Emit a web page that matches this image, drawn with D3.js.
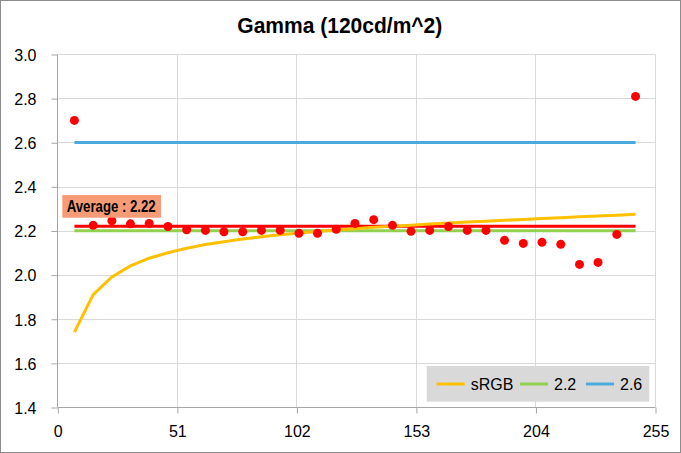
<!DOCTYPE html>
<html><head><meta charset="utf-8">
<script src="https://cdn.jsdelivr.net/npm/d3@7"></script>
<style>
body{margin:0;background:#fff;}
svg{display:block;font-family:"Liberation Sans",Arial,sans-serif;}
</style></head><body>
<svg id="c" width="681" height="453"></svg>
<script>
const title = "Gamma (120cd/m^2)";
const levels = [7.3,15.3,23.3,31.2,39.2,47.2,55.2,63.2,71.1,79.1,87.1,95.1,103.1,111.0,119.0,127.0,135.0,143.0,150.9,158.9,166.9,174.9,182.9,190.8,198.8,206.8,214.8,222.8,230.7,238.7,246.7];
const measured = [2.70,2.224,2.245,2.231,2.233,2.219,2.204,2.201,2.195,2.195,2.201,2.201,2.188,2.188,2.206,2.233,2.250,2.224,2.197,2.201,2.219,2.201,2.201,2.156,2.142,2.147,2.138,2.047,2.056,2.183,2.809];
const srgb = [1.74,1.91,1.99,2.04,2.075,2.10,2.12,2.137,2.15,2.162,2.172,2.181,2.189,2.196,2.203,2.209,2.215,2.22,2.225,2.23,2.235,2.239,2.243,2.247,2.251,2.255,2.259,2.263,2.266,2.27,2.274];
const g22 = 2.2, g26 = 2.6;
const average = 2.22;
const avgLabel = "Average : 2.22";
const xTicks = [0,51,102,153,204,255];
const yTicks = [1.4,1.6,1.8,2.0,2.2,2.4,2.6,2.8,3.0];
const legendItems = [{name:"sRGB",color:"#ffc000"},{name:"2.2",color:"#92d050"},{name:"2.6",color:"#4aaade"}];

const svg = d3.select("#c");
svg.append("rect").attr("x",0.5).attr("y",0.5).attr("width",680).attr("height",452)
  .attr("fill","#fff").attr("stroke","#8c8c8c");

const x = d3.scaleLinear().domain([0,255]).range([57.3,655]);
const y = d3.scaleLinear().domain([1.4,3.0]).range([407,54.3]);

svg.append("text").attr("x",237.3).attr("y",33.3)
  .attr("textLength",205).attr("lengthAdjust","spacingAndGlyphs")
  .attr("font-size",22).attr("font-weight","bold").attr("fill","#000").text(title);

// gridlines
const grid = svg.append("g").attr("stroke","#d9d9d9").attr("stroke-width",1);
yTicks.slice(1).forEach(t=>grid.append("line").attr("x1",x(0)).attr("x2",x(255)).attr("y1",Math.round(y(t))+0.5).attr("y2",Math.round(y(t))+0.5));
xTicks.slice(1).forEach(t=>grid.append("line").attr("y1",y(3.0)).attr("y2",y(1.4)).attr("x1",Math.round(x(t))+0.5).attr("x2",Math.round(x(t))+0.5));

// axes
const ax = svg.append("g").attr("transform",`translate(${Math.round(x(0))+0.5},0)`)
  .call(d3.axisLeft(y.copy().range([407.5,54.5])).tickValues(yTicks).tickFormat(d3.format(".1f")).tickSize(6).tickPadding(15));
const bx = svg.append("g").attr("transform",`translate(0,${407.5})`)
  .call(d3.axisBottom(x.copy().range([57.8,655.5])).tickValues(xTicks).tickSize(6).tickPadding(12.6));
[ax,bx].forEach(a=>{
  a.selectAll("path,line").attr("stroke","#a6a6a6");
  a.selectAll("text").attr("font-size",16).attr("fill","#000").attr("font-family","Liberation Sans,Arial,sans-serif");
});
ax.select(".domain").attr("d","M0,407.5V54.5");
bx.select(".domain").attr("d","M57.8,0H655.5");
ax.selectAll("text").attr("dy","0.36em");

const line = d3.line().x((d,i)=>x(levels[i])).y(d=>y(d));
const constLine = v => levels.map(()=>v);

svg.append("path").attr("d",line(constLine(g26))).attr("fill","none").attr("stroke","#4aaade").attr("stroke-width",3);
svg.append("path").attr("d",line(constLine(g22))).attr("fill","none").attr("stroke","#92d050").attr("stroke-width",3);
svg.append("path").attr("d",line(constLine(average))).attr("fill","none").attr("stroke","#ff0000").attr("stroke-width",3);
svg.append("path").attr("d",line(srgb)).attr("fill","none").attr("stroke","#ffc000").attr("stroke-width",3);

svg.append("g").selectAll("circle").data(measured).join("circle")
  .attr("cx",(d,i)=>x(levels[i])).attr("cy",d=>y(d)).attr("r",4.5).attr("fill","#ff0000");

// average label
svg.append("rect").attr("x",62.3).attr("y",195).attr("width",98.7).attr("height",22.7).attr("fill","#f79b77");
svg.append("text").attr("x",66.7).attr("y",211.7)
  .attr("textLength",89).attr("lengthAdjust","spacingAndGlyphs")
  .attr("font-size",16).attr("font-weight","bold").attr("fill","#000").text(avgLabel);

// legend
const lg = svg.append("g");
lg.append("rect").attr("x",426.7).attr("y",366).attr("width",222.6).attr("height",35.7).attr("fill","#d9d9d9");
const lx = [436.7,520,586];
legendItems.forEach((it,i)=>{
  lg.append("line").attr("x1",lx[i]).attr("x2",lx[i]+28).attr("y1",384).attr("y2",384).attr("stroke",it.color).attr("stroke-width",3);
  lg.append("text").attr("x",lx[i]+34).attr("y",389.8).attr("font-size",16).attr("fill","#000").text(it.name);
});
</script>
</body></html>
